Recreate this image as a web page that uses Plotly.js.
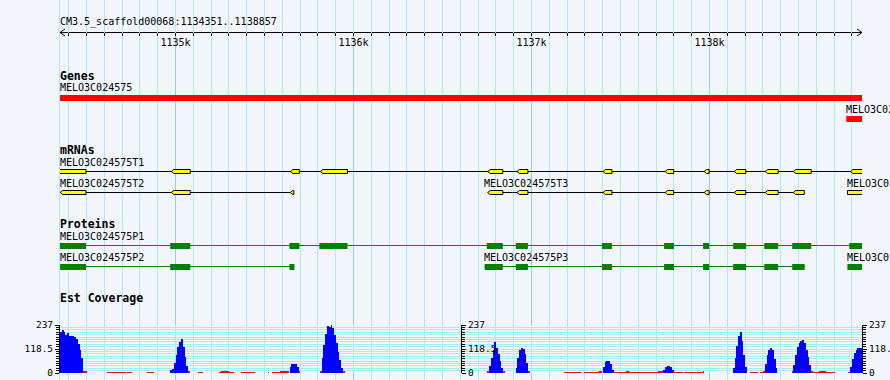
<!DOCTYPE html>
<html><head><meta charset="utf-8">
<script src="https://cdn.plot.ly/plotly-3.0.1.min.js"></script>
<style>html,body{margin:0;padding:0;background:#F2F6FA;} #chart{width:890px;height:380px;}</style>
</head><body><div id="chart"></div>
<script>
// ---------------- data ----------------
const viewStart = 1134351, viewEnd = 1138857;
const rulerTitle = "CM3.5_scaffold00068:1134351..1138857";
const majorTicks = [1135000, 1136000, 1137000, 1138000];
const majorTickLabels = ["1135k", "1136k", "1137k", "1138k"];
const trackNames = ["Genes", "mRNAs", "Proteins", "Est Coverage"];

const geneNames = ["MELO3C024575", "MELO3C024576"];
const geneStarts = [1134000, 1138769];
const geneEnds = [1139600, 1140500];

const mrnaNames = ["MELO3C024575T1", "MELO3C024575T2", "MELO3C024575T3", "MELO3C024576T1"];
const mrnaStarts = [1134300, 1134352, 1136737, 1138775];
const mrnaStrand = [-1, -1, -1, 1];
const mrnaExonStarts = [
  [1134300, 1134976, 1135645, 1135814, 1136754, 1136918, 1137402, 1137751, 1137970, 1138139, 1138313, 1138471, 1138792],
  [1134352, 1134976, 1135645],
  [1136754, 1136918, 1137402, 1137751, 1137970, 1138139, 1138313, 1138471],
  [1138775]
];
const mrnaExonEnds = [
  [1134497, 1135083, 1135696, 1135966, 1136839, 1136980, 1137452, 1137799, 1137998, 1138204, 1138386, 1138572, 1138900],
  [1134497, 1135083, 1135665],
  [1136839, 1136980, 1137452, 1137799, 1137998, 1138204, 1138386, 1138533],
  [1138960]
];

const proteinNames = ["MELO3C024575P1", "MELO3C024575P2", "MELO3C024575P3", "MELO3C024576P1"];
const proteinBlockStarts = [
  [1134300, 1134970, 1135640, 1135808, 1136749, 1136912, 1137396, 1137745, 1137964, 1138133, 1138308, 1138465, 1138786],
  [1134352, 1134970, 1135640],
  [1136737, 1136912, 1137396, 1137745, 1137964, 1138133, 1138308, 1138465],
  [1138775]
];
const proteinBlockEnds = [
  [1134497, 1135083, 1135696, 1135966, 1136839, 1136980, 1137452, 1137801, 1137998, 1138206, 1138386, 1138572, 1138900],
  [1134497, 1135083, 1135668],
  [1136839, 1136980, 1137452, 1137801, 1137998, 1138206, 1138386, 1138535],
  [1138960]
];

// EST coverage (10 bp bins)
const covMax = 237;
const covMid = 118.5;
const covBin = 10;
const covPeakStarts = [1134351, 1134971, 1135641, 1135811, 1136751, 1136911, 1137401, 1137741, 1138131, 1138301, 1138461, 1138781];
const covPeakValues = [
  [203, 211, 204, 188, 198, 183, 181, 181, 178, 168, 145, 115, 75, 12, 8],
  [15, 22, 48, 88, 128, 155, 166, 128, 80, 35, 10],
  [28, 42, 45, 42, 30, 8],
  [12, 72, 140, 192, 230, 225, 236, 224, 190, 150, 105, 62, 25, 8],
  [10, 35, 75, 115, 155, 125, 95, 60, 25, 8],
  [25, 75, 115, 122, 120, 95, 50, 10],
  [30, 55, 59, 58, 45, 15],
  [15, 30, 36, 36, 30, 14],
  [25, 75, 135, 182, 200, 160, 90, 30],
  [8, 45, 90, 115, 122, 112, 70, 25],
  [8, 40, 90, 128, 148, 160, 162, 148, 112, 78, 38, 10],
  [6, 30, 70, 97, 115, 122, 122, 122, 122]
];
const lowStarts = [1134614, 1134730, 1134839, 1135124, 1135242, 1135254, 1135302, 1135368, 1135520, 1135543, 1135589, 1135612,
  1137184, 1137295, 1137379, 1137456, 1137531, 1137546, 1137711, 1137793, 1137856, 1137963, 1138225, 1138286, 1138573, 1138618, 1138657];
const lowEnds = [1134723, 1134755, 1134880, 1135154, 1135254, 1135302, 1135326, 1135449, 1135526, 1135589, 1135612, 1135636,
  1137278, 1137379, 1137396, 1137531, 1137546, 1137711, 1137737, 1137849, 1137963, 1137972, 1138272, 1138301, 1138618, 1138657, 1138704];
const lowValues = [5, 5, 5, 5, 5, 10, 6, 5, 5, 5, 8, 10, 5, 5, 9, 5, 10, 5, 10, 5, 5, 9, 5, 5, 5, 10, 5];

// ---------------- layout / style ----------------
const W = 890, H = 380;
const mono = "DejaVu Sans Mono, monospace";
const bg = "#F2F6FA";
const gridMinor = "#A8ECF0";
const gridMajor = "#8FD2EA";
const rulerY = 32.5;
const trackTitleY = [76, 150, 224, 297.5];
const geneRowTop = [95, 116], geneRowLabel = [87, 109], geneBarH = 6;
const mrnaRowOf = [0, 1, 1, 1], mrnaRowLine = [171.5, 192.5], mrnaRowLabel = [162.5, 183.5];
const protRowOf = [0, 1, 1, 1], protRowLine = [245.5, 266.5], protRowLabel = [236.5, 257.5];
const covTop = 325, covBottom = 373;
const tipBp = 14;
const labelShift = -1.5;

const shapes = [], annotations = [];
function label(text, x, xref, y, size, bold) {
  annotations.push({text: bold ? "<b>" + text + "</b>" : text, x: x, xref: xref, y: y, yref: "y",
    xanchor: "left", yanchor: "middle", showarrow: false, borderpad: 0, xshift: labelShift,
    font: {family: mono, size: size, color: "#000"}});
}
trackNames.forEach((t, i) => label(t, 0, "paper", trackTitleY[i], 11.5, true));

geneNames.forEach((n, i) => {
  shapes.push({type: "rect", xref: "x", yref: "y", x0: geneStarts[i], x1: geneEnds[i],
    y0: geneRowTop[i], y1: geneRowTop[i] + geneBarH, fillcolor: "#FF0000", line: {width: 0}});
  label(n, Math.max(geneStarts[i], viewStart), "x", geneRowLabel[i], 10, false);
});

function exonPath(s, e, top, bot, strand) {
  const mid = (top + bot) / 2;
  if (strand < 0) return `M${s + tipBp},${top} L${e},${top} L${e},${bot} L${s + tipBp},${bot} L${s},${mid} Z`;
  return `M${s},${top} L${e - tipBp},${top} L${e},${mid} L${e - tipBp},${bot} L${s},${bot} Z`;
}
mrnaNames.forEach((n, i) => {
  const ly = mrnaRowLine[mrnaRowOf[i]];
  const st = mrnaExonStarts[i], en = mrnaExonEnds[i];
  if (st.length > 1) shapes.push({type: "line", xref: "x", yref: "y", x0: st[0], x1: en[en.length - 1], y0: ly, y1: ly,
    line: {color: "#000", width: 1}});
  st.forEach((s, k) => shapes.push({type: "path", xref: "x", yref: "y",
    path: exonPath(s, en[k], ly - 2, ly + 2, mrnaStrand[i]), fillcolor: "#FFFF00", line: {color: "#000", width: 1}}));
  label(n, Math.max(mrnaStarts[i], viewStart), "x", mrnaRowLabel[mrnaRowOf[i]], 10, false);
});

proteinNames.forEach((n, i) => {
  const ly = protRowLine[protRowOf[i]];
  const st = proteinBlockStarts[i], en = proteinBlockEnds[i];
  if (st.length > 1) shapes.push({type: "line", xref: "x", yref: "y", x0: st[0], x1: en[en.length - 1], y0: ly, y1: ly,
    line: {color: "#008000", width: 1}});
  st.forEach((s, k) => shapes.push({type: "rect", xref: "x", yref: "y", x0: s, x1: en[k],
    y0: ly - 2.5, y1: ly + 3.5, fillcolor: "#008000", line: {width: 0}}));
  label(n, Math.max(st[0], viewStart), "x", protRowLabel[protRowOf[i]], 10, false);
});

// ruler arrow heads (paper coords)
const ax = 5 / 802, ry = 1 - rulerY / H, ah = 3.5 / H;
shapes.push({type: "path", xref: "paper", yref: "paper", path: `M${ax},${ry + ah} L0,${ry} L${ax},${ry - ah}`, line: {color: "#000", width: 1}});
shapes.push({type: "path", xref: "paper", yref: "paper", path: `M${1 - ax},${ry + ah} L1,${ry} L${1 - ax},${ry - ah}`, line: {color: "#000", width: 1}});

// coverage bars
const bx = [], by = [], bc = [];
covPeakStarts.forEach((s, p) => covPeakValues[p].forEach((v, k) => {
  bx.push(s + covBin * k + covBin / 2); by.push(v); bc.push(v <= 12 ? "#FF0000" : "#0000FF");
}));
const dummy = (xa, ya) => ({type: "scatter", mode: "markers", x: [viewStart], y: [-1e6], xaxis: xa, yaxis: ya,
  marker: {opacity: 0}, hoverinfo: "skip", cliponaxis: true});
const traces = [
  {type: "bar", x: bx, y: by, width: bx.map(() => covBin), xaxis: "x", yaxis: "y2",
    marker: {color: bc, line: {width: 0}}, hoverinfo: "skip"},
  {type: "bar", x: lowStarts.map((s, i) => (s + lowEnds[i]) / 2), y: lowValues,
    width: lowStarts.map((s, i) => lowEnds[i] - s), xaxis: "x", yaxis: "y2",
    marker: {color: "#FF0000", line: {width: 0}}, hoverinfo: "skip"},
  dummy("x", "y"), dummy("x2", "y"), dummy("x3", "y"), dummy("x", "y3"), dummy("x", "y4"), dummy("x", "y5")
];

const covDomain = [(H - covBottom) / H, (H - covTop) / H];
const covFont = {family: mono, size: 9.5, color: "#000"};
function covAxis(extra) {
  return Object.assign({
    range: [0, covMax], showline: true, linecolor: "#000", linewidth: 1,
    tickmode: "linear", tick0: 0, dtick: covMid, tickformat: ".4~g",
    ticks: "outside", ticklen: 4, tickcolor: "#000", tickwidth: 1,
    tickfont: covFont, zeroline: false, fixedrange: true, showgrid: false,
    minor: {tickmode: "linear", tick0: 0, dtick: covMax / 20, ticks: "outside", ticklen: 3, tickcolor: "#000", showgrid: false}
  }, extra);
}

const layout = {
  width: W, height: H, margin: {l: 60, r: 28, t: 0, b: 0, pad: 0},
  paper_bgcolor: bg, plot_bgcolor: bg, showlegend: false, hovermode: false,
  barmode: "overlay", bargap: 0,
  title: {text: rulerTitle, x: 60 / W, xanchor: "left", xref: "container", y: 1 - 21 / H, yanchor: "middle", yref: "container",
    font: {family: mono, size: 10, color: "#000"}},
  xaxis: {range: [viewStart, viewEnd], anchor: "y", side: "top",
    showline: true, linecolor: "#000", linewidth: 1,
    tickmode: "linear", tick0: 0, dtick: 100, ticks: "outside", ticklen: 3, tickcolor: "#000", tickwidth: 1,
    showticklabels: false, showgrid: true, gridcolor: gridMinor, gridwidth: 1, zeroline: false, fixedrange: true},
  xaxis2: {range: [viewStart, viewEnd], overlaying: "x", anchor: "y", side: "top",
    showline: false, tickmode: "linear", tick0: 0, dtick: 100, ticks: "inside", ticklen: 3, tickcolor: "#000",
    showticklabels: false, showgrid: false, zeroline: false, fixedrange: true},
  xaxis3: {range: [viewStart, viewEnd], overlaying: "x", anchor: "y", side: "top",
    showline: false, tickmode: "array", tickvals: majorTicks, ticktext: majorTickLabels,
    ticks: "inside", ticklen: 3, tickcolor: "#000", ticklabelposition: "inside", ticklabelstandoff: 2,
    tickfont: {family: mono, size: 10, color: "#000"},
    showgrid: true, gridcolor: gridMajor, gridwidth: 1, zeroline: false, fixedrange: true},
  yaxis: {domain: [0, 1 - rulerY / H], range: [H, rulerY], showline: true, linecolor: gridMinor, linewidth: 1,
    showticklabels: false, ticks: "", showgrid: false, zeroline: false, fixedrange: true},
  yaxis5: {domain: [1 - rulerY / H, 1], range: [rulerY, 0], anchor: "x", showline: true, linecolor: gridMinor, linewidth: 1,
    showticklabels: false, ticks: "", showgrid: false, zeroline: false, fixedrange: true},
  yaxis2: covAxis({domain: covDomain, anchor: "x", side: "left", showgrid: true, gridcolor: gridMinor, gridwidth: 1,
    minor: {tickmode: "linear", tick0: 0, dtick: covMax / 20, ticks: "outside", ticklen: 3, tickcolor: "#000",
      showgrid: true, gridcolor: gridMinor, gridwidth: 1}}),
  yaxis3: covAxis({overlaying: "y2", anchor: "free", position: 0.5, side: "right"}),
  yaxis4: covAxis({overlaying: "y2", anchor: "x", side: "right"}),
  shapes: shapes, annotations: annotations
};

Plotly.newPlot("chart", traces, layout, {staticPlot: true, displayModeBar: false});
</script>
</body></html>
